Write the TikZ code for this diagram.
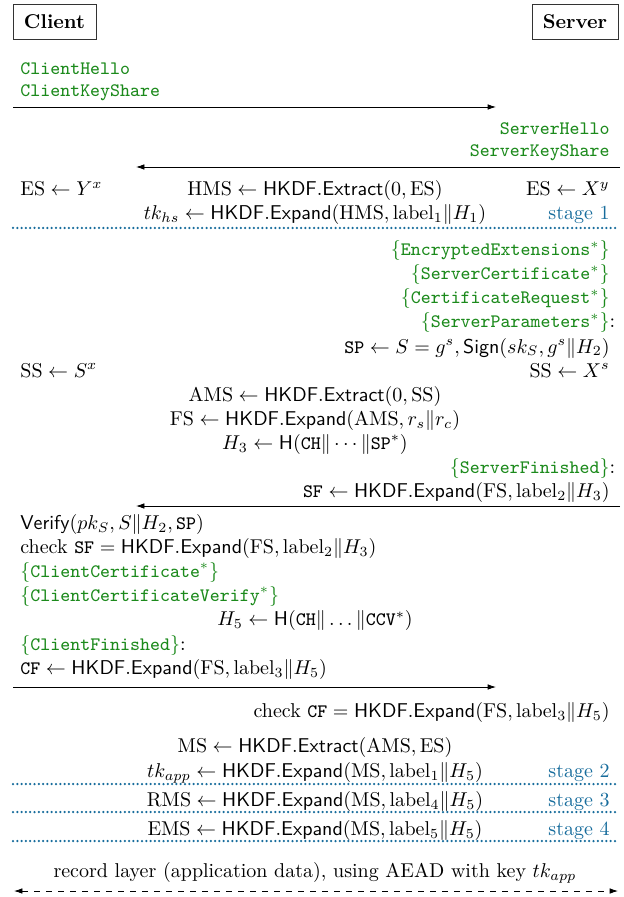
\documentclass[tikz,border=0pt]{standalone}
\usepackage{amsmath,amssymb}
\usepackage{fontspec}
\setmonofont{Latin Modern Mono}[Scale=0.95]
\usepackage{xcolor}
\definecolor{msggreen}{HTML}{1C8A1C}
\definecolor{stageblue}{HTML}{176C9C}
\usepackage{tikz}
\usetikzlibrary{positioning,arrows.meta}
\tikzset{
  party/.style={rectangle, draw=black!80, thin, minimum height=17.5pt, inner sep=0pt,
                font=\bfseries},
  lt/.style   ={inner sep=0pt, anchor=base west},
  rt/.style   ={inner sep=0pt, anchor=base east},
  ct/.style   ={inner sep=0pt, anchor=base},
  msg/.style  ={text=msggreen},
  stg/.style  ={rt, text=stageblue},
  arr/.style  ={-{Latex[length=4.2pt,width=2.8pt]}, thin},
  rec/.style  ={{Latex[length=4.2pt,width=2.8pt]}-{Latex[length=4.2pt,width=2.8pt]}, thin, dashed},
  sep/.style  ={stageblue, line width=1.25pt, dash pattern=on 0pt off 2.15pt, line cap=round},
}
\newcommand{\kdf}[1]{\mathsf{HKDF.#1}}
\newcommand{\msgname}[1]{$\{$\texttt{#1}$^*\}$}

\begin{document}
\begin{tikzpicture}[x=0.5pt,y=-0.5pt]
  \useasboundingbox (0,0) rectangle (624,897);
  \node[party, minimum width=41.5pt] (client) at (54.5,21.5) {Client};
  \node[party, minimum width=43pt] (server) at (575,21.5) {Server};

  \node[lt, msg] (chello) at (20,75) {\texttt{ClientHello}};
  \node[lt, msg] (ckshare) at (20,97) {\texttt{ClientKeyShare}};
  \coordinate (c1) at (13,107);
  \coordinate (s1) at (496,107);
  \draw[arr] (c1) -- (s1);

  \node[rt, msg] (shello) at (610,135) {\texttt{ServerHello}};
  \node[rt, msg] (skshare) at (610,157) {\texttt{ServerKeyShare}};
  \coordinate (s2) at (620,167);
  \coordinate (c2) at (136,167);
  \draw[arr] (s2) -- (c2);

  \node[lt] (ces) at (20,196) {$\mathrm{ES} \leftarrow Y^x$};
  \node[ct] (hms) at (315,196) {$\mathrm{HMS} \leftarrow \kdf{Extract}(0, \mathrm{ES})$};
  \node[rt] (ses) at (610,196) {$\mathrm{ES} \leftarrow X^y$};
  \node[ct] (tkhs) at (315,220) {$tk_{hs} \leftarrow \kdf{Expand}(\mathrm{HMS}, \mathrm{label}_1 \| H_1)$};
  \node[stg] (st1) at (610,220) {stage 1};
  \coordinate (d1l) at (13,228);
  \coordinate (d1r) at (618,228);
  \draw[sep] (d1l) -- (d1r);

  \node[rt, msg] (encext) at (610,256) {\msgname{EncryptedExtensions}};
  \node[rt, msg] (scert) at (610,280) {\msgname{ServerCertificate}};
  \node[rt, msg] (certreq) at (610,304) {\msgname{CertificateRequest}};
  \node[rt, msg] (sparams) at (610,328) {\msgname{ServerParameters}\rlap{\color{black}:}};
  \node[rt] (sp) at (610,353) {$\mathtt{SP} \leftarrow S = g^s, \mathsf{Sign}(sk_S, g^s \| H_2)$};
  \node[lt] (css) at (20,377) {$\mathrm{SS} \leftarrow S^x$};
  \node[rt] (sss) at (610,377) {$\mathrm{SS} \leftarrow X^s$};
  \node[ct] (ams) at (315,401) {$\mathrm{AMS} \leftarrow \kdf{Extract}(0, \mathrm{SS})$};
  \node[ct] (fs) at (315,425) {$\mathrm{FS} \leftarrow \kdf{Expand}(\mathrm{AMS}, r_s \| r_c)$};
  \node[ct] (h3) at (315,449) {$H_3 \leftarrow \mathsf{H}(\mathtt{CH} \| \cdots \| \mathtt{SP}^*)$};
  \node[rt, msg] (sfin) at (610,473) {$\{$\texttt{ServerFinished}$\}$\rlap{\color{black}:}};
  \node[rt] (sf) at (610,497) {$\mathtt{SF} \leftarrow \kdf{Expand}(\mathrm{FS}, \mathrm{label}_2 \| H_3)$};
  \coordinate (s3) at (620,506);
  \coordinate (c3) at (136,506);
  \draw[arr] (s3) -- (c3);

  \node[lt] (verify) at (20,529) {$\mathsf{Verify}(pk_S, S \| H_2, \mathtt{SP})$};
  \node[lt] (chksf) at (20,553) {check $\mathtt{SF} = \kdf{Expand}(\mathrm{FS}, \mathrm{label}_2 \| H_3)$};
  \node[lt, msg] (ccert) at (20,577) {\msgname{ClientCertificate}};
  \node[lt, msg] (ccv) at (20,601) {\msgname{ClientCertificateVerify}};
  \node[ct] (h5) at (315,625.5) {$H_5 \leftarrow \mathsf{H}(\mathtt{CH} \| \ldots \| \mathtt{CCV}^*)$};
  \node[lt, msg] (cfin) at (20,650) {$\{$\texttt{ClientFinished}$\}$\textcolor{black}{:}};
  \node[lt] (cf) at (20,674) {$\mathtt{CF} \leftarrow \kdf{Expand}(\mathrm{FS}, \mathrm{label}_3 \| H_5)$};
  \coordinate (c4) at (13,687);
  \coordinate (s4) at (496,687);
  \draw[arr] (c4) -- (s4);

  \node[rt] (chkcf) at (610,717) {check $\mathtt{CF} = \kdf{Expand}(\mathrm{FS}, \mathrm{label}_3 \| H_5)$};
  \node[ct] (ms) at (315,752) {$\mathrm{MS} \leftarrow \kdf{Extract}(\mathrm{AMS}, \mathrm{ES})$};
  \node[ct] (tkapp) at (315,777) {$tk_{app} \leftarrow \kdf{Expand}(\mathrm{MS}, \mathrm{label}_1 \| H_5)$};
  \node[stg] (st2) at (610,777) {stage 2};
  \coordinate (d2l) at (13,784);
  \coordinate (d2r) at (618,784);
  \draw[sep] (d2l) -- (d2r);
  \node[ct] (rms) at (315,806) {$\mathrm{RMS} \leftarrow \kdf{Expand}(\mathrm{MS}, \mathrm{label}_4 \| H_5)$};
  \node[stg] (st3) at (610,806) {stage 3};
  \coordinate (d3l) at (13,812);
  \coordinate (d3r) at (618,812);
  \draw[sep] (d3l) -- (d3r);
  \node[ct] (ems) at (315,835) {$\mathrm{EMS} \leftarrow \kdf{Expand}(\mathrm{MS}, \mathrm{label}_5 \| H_5)$};
  \node[stg] (st4) at (610,835) {stage 4};
  \coordinate (d4l) at (13,841);
  \coordinate (d4r) at (618,841);
  \draw[sep] (d4l) -- (d4r);

  \node[ct] (reclayer) at (315,877) {record layer (application data), using AEAD with key $tk_{app}$};
  \coordinate (c5) at (14,891);
  \coordinate (s5) at (618,891);
  \draw[rec] (c5) -- (s5);
\end{tikzpicture}
\end{document}
